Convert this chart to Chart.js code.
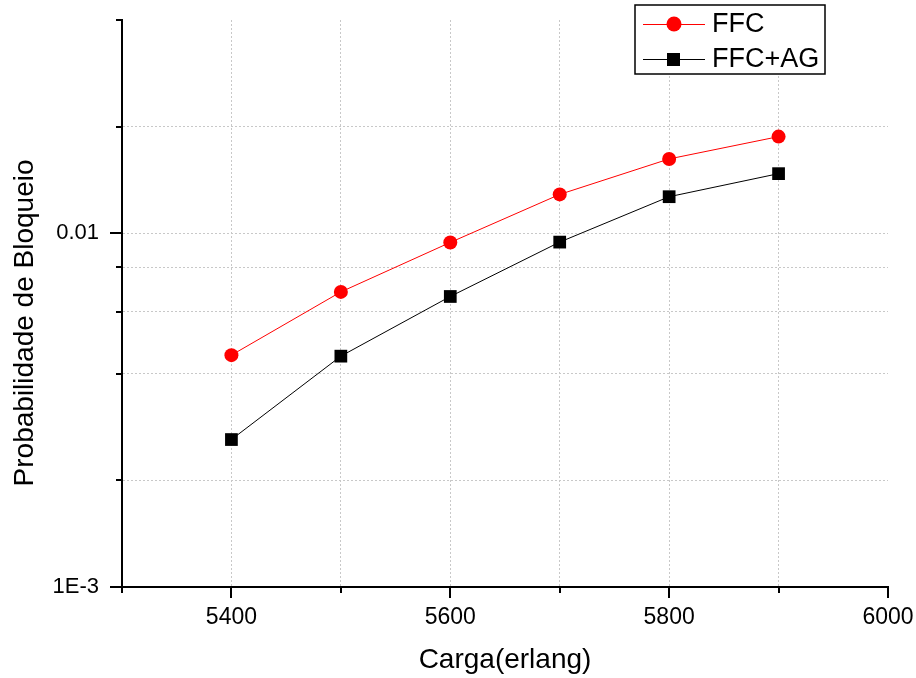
<!DOCTYPE html>
<html>
<head>
<meta charset="utf-8">
<script src="https://cdn.jsdelivr.net/npm/chart.js@4"></script>
<style>
  html, body { margin: 0; padding: 0; background: #fff; }
  canvas { display: block; }
</style>
</head>
<body>
<canvas id="c" width="916" height="678"></canvas>
<script>
// ---- data ----
const loads = [5400, 5500, 5600, 5700, 5800, 5900];
const ffc = [0.00452, 0.00682, 0.00941, 0.01286, 0.0162, 0.01873];
const ffcAg = [0.00261, 0.00449, 0.00662, 0.00943, 0.01267, 0.01472];
const seriesNames = ['FFC', 'FFC+AG'];
const yTickValues = [0.001, 0.002, 0.004, 0.006, 0.008, 0.01, 0.02, 0.04];
const yTickLabels = {0.001: '1E-3', 0.01: '0.01'};
const xTickLabels = [5400, 5600, 5800, 6000];
const xTitle = 'Carga(erlang)';
const yTitle = 'Probabilidade de Bloqueio';

const FONT = "'Liberation Sans', Arial, sans-serif";

const tickMarks = {
  id: 'tickMarks',
  afterDraw(chart) {
    const ctx = chart.ctx;
    const xs = chart.scales.x, ys = chart.scales.y;
    ctx.save();
    ctx.strokeStyle = '#000';
    ctx.lineWidth = 2;
    ctx.beginPath();
    xs.ticks.forEach(t => {
      const px = Math.round(xs.getPixelForValue(t.value));
      const major = xTickLabels.includes(t.value);
      ctx.moveTo(px, xs.top);
      ctx.lineTo(px, xs.top + (major ? 11 : 6));
    });
    ys.ticks.forEach(t => {
      const py = Math.round(ys.getPixelForValue(t.value));
      const major = yTickLabels[t.value] !== undefined;
      ctx.moveTo(ys.right, py);
      ctx.lineTo(ys.right - (major ? 12 : 6), py);
    });
    ctx.stroke();
    ctx.restore();
  }
};

const legendBox = {
  id: 'legendBox',
  afterDraw(chart) {
    const ctx = chart.ctx;
    const x0 = 635, y0 = 5, w = 190, h = 69;
    ctx.save();
    ctx.fillStyle = '#fff';
    ctx.fillRect(x0, y0, w, h);
    ctx.strokeStyle = '#000';
    ctx.lineWidth = 1.5;
    ctx.strokeRect(x0, y0, w, h);
    const rows = [24, 59];
    chart.data.datasets.forEach((ds, i) => {
      const y = rows[i];
      ctx.strokeStyle = ds.borderColor;
      ctx.lineWidth = 1;
      ctx.beginPath();
      ctx.moveTo(643, y + 0.5);
      ctx.lineTo(705, y + 0.5);
      ctx.stroke();
      ctx.fillStyle = ds.pointBackgroundColor;
      ctx.beginPath();
      if (ds.pointStyle === 'rect') {
        ctx.rect(667, y - 6, 13, 13);
      } else {
        ctx.arc(674, y, 7.5, 0, Math.PI * 2);
      }
      ctx.fill();
      ctx.fillStyle = '#000';
      ctx.font = '27px ' + FONT;
      ctx.textBaseline = 'middle';
      ctx.textAlign = 'left';
      ctx.fillText(ds.label, 712, y + 1);
    });
    ctx.restore();
  }
};

new Chart(document.getElementById('c'), {
  type: 'line',
  data: {
    datasets: [
      {
        label: seriesNames[0],
        data: loads.map((x, i) => ({x, y: ffc[i]})),
        borderColor: '#ff0000',
        backgroundColor: '#ff0000',
        pointBackgroundColor: '#ff0000',
        borderWidth: 1,
        pointStyle: 'circle',
        pointRadius: 7,
        pointBorderWidth: 0,
        tension: 0
      },
      {
        label: seriesNames[1],
        data: loads.map((x, i) => ({x, y: ffcAg[i]})),
        borderColor: '#000000',
        backgroundColor: '#000000',
        pointBackgroundColor: '#000000',
        borderWidth: 1,
        pointStyle: 'rect',
        pointRadius: 9,
        pointBorderWidth: 0,
        tension: 0
      }
    ]
  },
  options: {
    responsive: false,
    animation: false,
    events: [],
    layout: { padding: { top: 20, right: 28, left: 0, bottom: 0 } },
    plugins: { legend: { display: false }, tooltip: { enabled: false } },
    scales: {
      x: {
        type: 'linear',
        min: 5300, max: 6000,
        afterFit: s => { s.height = 91; s.paddingLeft = 0; s.paddingRight = 0; },
        ticks: {
          stepSize: 100,
          autoSkip: false,
          maxRotation: 0,
          padding: 17,
          color: '#000',
          font: { family: FONT, size: 23 },
          callback: v => xTickLabels.includes(v) ? String(v) : ''
        },
        grid: {
          drawTicks: false,
          lineWidth: 1,
          color: c => (c.tick && (c.tick.value === 5300 || c.tick.value === 6000)) ? 'rgba(0,0,0,0)' : '#c8c8c8'
        },
        border: { display: true, color: '#000', width: 2, dash: [2, 2] },
        title: {
          display: true, text: xTitle, color: '#000',
          font: { family: FONT, size: 28, lineHeight: 1 },
          padding: { top: 0, bottom: 4 }
        }
      },
      y: {
        type: 'logarithmic',
        min: 0.001, max: 0.04,
        afterFit: s => { s.width = 122; s.paddingTop = 0; s.paddingBottom = 0; },
        afterBuildTicks: s => { s.ticks = yTickValues.map(v => ({value: v})); },
        ticks: {
          autoSkip: false,
          padding: 23,
          color: '#000',
          font: { family: FONT, size: 22 },
          callback: v => yTickLabels[v] !== undefined ? yTickLabels[v] : ''
        },
        grid: {
          drawTicks: false,
          lineWidth: 1,
          color: c => (c.tick && (c.tick.value === 0.001 || c.tick.value === 0.04)) ? 'rgba(0,0,0,0)' : '#c8c8c8'
        },
        border: { display: true, color: '#000', width: 2, dash: [2, 2] },
        title: {
          display: true, text: yTitle + '     ', color: '#000',
          font: { family: FONT, size: 28, lineHeight: 1 },
          padding: { top: 11, bottom: 0 }
        }
      }
    }
  },
  plugins: [tickMarks, legendBox]
});
</script>
</body>
</html>
